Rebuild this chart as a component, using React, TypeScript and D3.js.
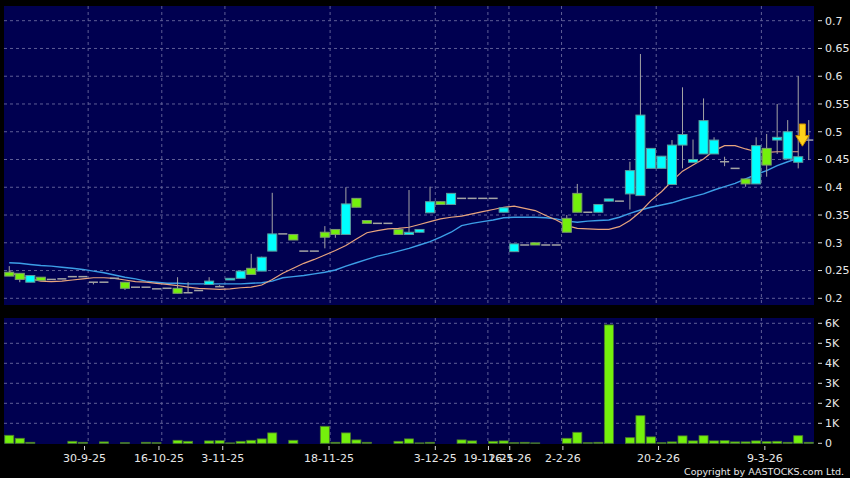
import React from 'react';
import * as d3 from 'd3';

const W = 850;
const H = 478;

// x-axis labels and the candle index where each period starts
const tickLabels = ['30-9-25', '16-10-25', '3-11-25', '18-11-25', '3-12-25', '19-12-25', '16-1-26', '2-2-26', '20-2-26', '9-3-26'];
const tickIndex = [8, 15, 21, 31, 41, 46, 48, 53, 62, 72];

const priceTicks = [0.2, 0.25, 0.3, 0.35, 0.4, 0.45, 0.5, 0.55, 0.6, 0.65, 0.7];
const volTicks = [0, 1, 2, 3, 4, 5, 6];

const open = [0.247, 0.245, 0.229, 0.238, 0.234, 0.235, 0.239, 0.239, 0.229, 0.229, 0.236, 0.229, 0.220, 0.220, 0.217, 0.218, 0.218, 0.210, 0.214, 0.225, 0.221, 0.233, 0.236, 0.254, 0.249, 0.285, 0.316, 0.315, 0.285, 0.285, 0.319, 0.324, 0.315, 0.380, 0.340, 0.335, 0.335, 0.324, 0.315, 0.319, 0.354, 0.374, 0.369, 0.380, 0.380, 0.380, 0.380, 0.355, 0.284, 0.296, 0.300, 0.296, 0.296, 0.344, 0.389, 0.355, 0.355, 0.375, 0.375, 0.388, 0.385, 0.434, 0.434, 0.405, 0.476, 0.445, 0.460, 0.460, 0.446, 0.434, 0.415, 0.406, 0.470, 0.485, 0.451, 0.445, 0.485];
const high = [0.258, 0.245, 0.241, 0.238, 0.234, 0.235, 0.239, 0.239, 0.229, 0.229, 0.236, 0.229, 0.220, 0.220, 0.217, 0.218, 0.238, 0.229, 0.214, 0.238, 0.224, 0.236, 0.249, 0.280, 0.275, 0.390, 0.316, 0.315, 0.285, 0.285, 0.330, 0.324, 0.400, 0.380, 0.340, 0.335, 0.335, 0.324, 0.395, 0.324, 0.401, 0.374, 0.389, 0.380, 0.380, 0.380, 0.380, 0.363, 0.298, 0.296, 0.300, 0.296, 0.296, 0.350, 0.406, 0.355, 0.369, 0.379, 0.375, 0.446, 0.640, 0.470, 0.456, 0.485, 0.580, 0.486, 0.560, 0.490, 0.455, 0.434, 0.415, 0.490, 0.496, 0.550, 0.521, 0.600, 0.521];
const low = [0.240, 0.229, 0.229, 0.232, 0.234, 0.235, 0.239, 0.239, 0.225, 0.229, 0.236, 0.215, 0.220, 0.220, 0.217, 0.218, 0.209, 0.210, 0.214, 0.225, 0.221, 0.233, 0.236, 0.243, 0.249, 0.285, 0.316, 0.305, 0.285, 0.285, 0.290, 0.309, 0.315, 0.364, 0.335, 0.335, 0.335, 0.315, 0.315, 0.319, 0.354, 0.369, 0.369, 0.380, 0.380, 0.380, 0.380, 0.355, 0.284, 0.296, 0.296, 0.296, 0.296, 0.319, 0.355, 0.355, 0.355, 0.375, 0.375, 0.360, 0.385, 0.434, 0.434, 0.405, 0.434, 0.445, 0.460, 0.460, 0.438, 0.434, 0.401, 0.406, 0.419, 0.460, 0.451, 0.434, 0.449];
const close = [0.240, 0.234, 0.241, 0.232, 0.234, 0.235, 0.239, 0.239, 0.229, 0.229, 0.236, 0.218, 0.220, 0.220, 0.217, 0.218, 0.209, 0.210, 0.214, 0.231, 0.221, 0.236, 0.249, 0.243, 0.274, 0.316, 0.316, 0.305, 0.285, 0.285, 0.310, 0.315, 0.370, 0.364, 0.335, 0.335, 0.335, 0.315, 0.319, 0.324, 0.374, 0.369, 0.389, 0.380, 0.380, 0.380, 0.380, 0.363, 0.298, 0.296, 0.296, 0.296, 0.296, 0.319, 0.355, 0.355, 0.369, 0.379, 0.375, 0.430, 0.530, 0.470, 0.456, 0.476, 0.495, 0.450, 0.520, 0.485, 0.446, 0.434, 0.406, 0.475, 0.440, 0.490, 0.500, 0.455, 0.485];
// volume in thousands
const volume = [0.4, 0.25, 0.05, 0, 0, 0, 0.1, 0.05, 0, 0.07, 0, 0.03, 0, 0.05, 0.03, 0, 0.15, 0.1, 0, 0.12, 0.13, 0.02, 0.1, 0.15, 0.22, 0.52, 0, 0.15, 0, 0, 0.85, 0.05, 0.52, 0.17, 0.05, 0, 0, 0.1, 0.22, 0.02, 0.05, 0, 0, 0.17, 0.12, 0, 0.1, 0.12, 0.03, 0.05, 0.02, 0, 0, 0.25, 0.55, 0.03, 0.05, 5.92, 0, 0.28, 1.38, 0.32, 0.03, 0.07, 0.37, 0.12, 0.38, 0.12, 0.13, 0.07, 0.07, 0.12, 0.08, 0.1, 0.05, 0.38, 0.05];
// moving averages (orange short, blue long)
const maShort = [0.248, 0.239, 0.235, 0.231, 0.230, 0.231, 0.233, 0.235, 0.237, 0.237, 0.236, 0.233, 0.230, 0.229, 0.227, 0.225, 0.223, 0.220, 0.218, 0.217, 0.216, 0.217, 0.219, 0.220, 0.224, 0.234, 0.245, 0.254, 0.263, 0.270, 0.278, 0.286, 0.295, 0.307, 0.318, 0.322, 0.325, 0.326, 0.328, 0.333, 0.338, 0.343, 0.346, 0.348, 0.352, 0.356, 0.360, 0.364, 0.366, 0.362, 0.358, 0.349, 0.341, 0.331, 0.326, 0.325, 0.324, 0.324, 0.329, 0.340, 0.356, 0.376, 0.392, 0.411, 0.429, 0.440, 0.451, 0.466, 0.475, 0.475, 0.469, 0.464, 0.463, 0.464, 0.464, 0.464];
const maLong = [0.264, 0.263, 0.261, 0.259, 0.258, 0.256, 0.254, 0.252, 0.249, 0.246, 0.242, 0.238, 0.235, 0.231, 0.229, 0.227, 0.227, 0.226, 0.226, 0.226, 0.226, 0.226, 0.226, 0.227, 0.228, 0.231, 0.237, 0.239, 0.241, 0.244, 0.247, 0.251, 0.258, 0.264, 0.270, 0.276, 0.280, 0.285, 0.290, 0.296, 0.302, 0.310, 0.319, 0.331, 0.335, 0.338, 0.341, 0.345, 0.346, 0.346, 0.346, 0.345, 0.343, 0.339, 0.337, 0.339, 0.340, 0.341, 0.346, 0.353, 0.359, 0.364, 0.368, 0.372, 0.378, 0.383, 0.388, 0.395, 0.401, 0.407, 0.415, 0.423, 0.430, 0.439, 0.446, 0.452];

// down-arrow signal on the last candles
const arrowTop = 0.514;
const arrowNeck = 0.493;
const arrowTip = 0.474;

const BG = '#000050';
const GRID = '#5e5e96';
const CYAN = '#00ffff';
const GREEN = '#74f00c';
const WICK = '#a4a4a4';

export default function App() {
  const n = open.length;
  const idx = d3.range(n);
  const left = 4, right = 814;
  const mainTop = 6, mainBottom = 305;
  const volTop = 318, volBottom = 444;

  const x = d3.scaleBand<number>().domain(idx).range([left, right]);
  const xLab = d3.scaleBand<number>().domain(idx).range([-0.5, 818]);
  const y = d3.scaleLinear().domain([0.2, 0.7]).range([298.3, 20.7]);
  const yv = d3.scaleLinear().domain([0, 6]).range([443.3, 323.3]);
  const bw = x.bandwidth() * 0.86;
  const cx = (i: number) => (x(i) as number) + x.bandwidth() / 2;

  const lineShort = d3.line<number>().x((_, i) => cx(i)).y((d) => y(d));
  const lineLong = d3.line<number>().x((_, i) => cx(i)).y((d) => y(d));

  const ax = cx(75) + x.step() * 0.4;
  const yT = y(arrowTop), yN = y(arrowNeck), yTip = y(arrowTip);
  const arrowPath = `M${ax - 3},${yT} L${ax + 3},${yT} L${ax + 3},${yN} L${ax + 6.7},${yN} L${ax},${yTip} L${ax - 6.7},${yN} L${ax - 3},${yN} Z`;

  const font = "'DejaVu Sans', Verdana, sans-serif";

  return (
    <svg width={W} height={H} style={{ position: 'fixed', left: 0, top: 0, display: 'block' }}>
      <rect x={0} y={0} width={W} height={H} fill="#000000" />
      {/* panels */}
      <rect x={left} y={mainTop} width={right - left} height={mainBottom - mainTop} fill={BG} />
      <rect x={left} y={volTop} width={right - left} height={volBottom - volTop} fill={BG} />

      {/* horizontal grid - price */}
      {priceTicks.map((t) => (
        <line key={'pg' + t} x1={left} x2={right} y1={y(t)} y2={y(t)} stroke={GRID} strokeWidth={1} strokeDasharray="3,3" />
      ))}
      {volTicks.filter((t) => t > 0).map((t) => (
        <line key={'vg' + t} x1={left} x2={right} y1={yv(t)} y2={yv(t)} stroke={GRID} strokeWidth={1} strokeDasharray="3,3" />
      ))}
      {/* vertical grid */}
      {tickIndex.map((k) => (
        <g key={'vgx' + k}>
          <line x1={x(k)} x2={x(k)} y1={mainTop} y2={mainBottom} stroke={GRID} strokeWidth={1} strokeDasharray="3,3" />
          <line x1={x(k)} x2={x(k)} y1={volTop} y2={volBottom} stroke={GRID} strokeWidth={1} strokeDasharray="3,3" />
        </g>
      ))}

      {/* moving averages */}
      <path d={lineLong(maLong) || ''} fill="none" stroke="#3c9ee6" strokeWidth={1.4} />
      <path d={lineShort(maShort) || ''} fill="none" stroke="#e8a47e" strokeWidth={1.2} />

      {/* candles */}
      {idx.map((i) => {
        const o = open[i], c = close[i], h = high[i], l = low[i];
        const xc = cx(i);
        const wick = h > l ? (
          <line x1={xc} x2={xc} y1={y(h)} y2={y(l)} stroke={WICK} strokeWidth={1} />
        ) : null;
        if (o === c) {
          return (
            <g key={'c' + i}>
              {wick}
              <line x1={xc - bw / 2} x2={xc + bw / 2} y1={y(c)} y2={y(c)} stroke={WICK} strokeWidth={1.5} />
            </g>
          );
        }
        const top = y(Math.max(o, c));
        const bot = y(Math.min(o, c));
        const up = c > o;
        return (
          <g key={'c' + i}>
            {wick}
            <rect x={xc - bw / 2} y={top} width={bw} height={Math.max(bot - top, 1.5)} fill={up ? CYAN : GREEN} stroke={up ? '#5c9c9c' : '#7c9c6c'} strokeWidth={1} />
          </g>
        );
      })}

      {/* signal arrow */}
      <path d={arrowPath} fill="#ffd21a" stroke="#c88a00" strokeWidth={1} />

      {/* volume bars */}
      {idx.map((i) => (volume[i] > 0 ? (
        <rect key={'v' + i} x={cx(i) - bw / 2} y={yv(volume[i])} width={bw} height={yv(0) - yv(volume[i])} fill={GREEN} stroke="#4c7c2c" strokeWidth={0.8} />
      ) : null))}

      {/* right axis labels */}
      {priceTicks.map((t) => (
        <g key={'pl' + t}>
          <line x1={818} x2={822} y1={y(t)} y2={y(t)} stroke="#d8d8d8" strokeWidth={1} />
          <text x={825} y={y(t)} dy="0.35em" fill="#e8e8e8" fontSize={11} fontFamily={font}>{String(t)}</text>
        </g>
      ))}
      {volTicks.map((t) => (
        <g key={'vl' + t}>
          <line x1={818} x2={822} y1={yv(t)} y2={yv(t)} stroke="#d8d8d8" strokeWidth={1} />
          <text x={825} y={yv(t)} dy="0.35em" fill="#e8e8e8" fontSize={11} fontFamily={font}>{t === 0 ? '0' : t + 'K'}</text>
        </g>
      ))}

      {/* x axis labels */}
      {tickIndex.map((k, j) => {
        const lx = xLab(k) as number;
        return (
          <g key={'xl' + k}>
            <line x1={lx} x2={lx} y1={446} y2={450} stroke="#d8d8d8" strokeWidth={1} />
            <text x={lx} y={461.5} textAnchor="middle" fill="#e8e8e8" fontSize={11} fontFamily={font}>{tickLabels[j]}</text>
          </g>
        );
      })}

      <text x={844} y={475} textAnchor="end" fill="#e8e8e8" fontSize={9.5} fontFamily={font}>Copyright by AASTOCKS.com Ltd.</text>
    </svg>
  );
}
